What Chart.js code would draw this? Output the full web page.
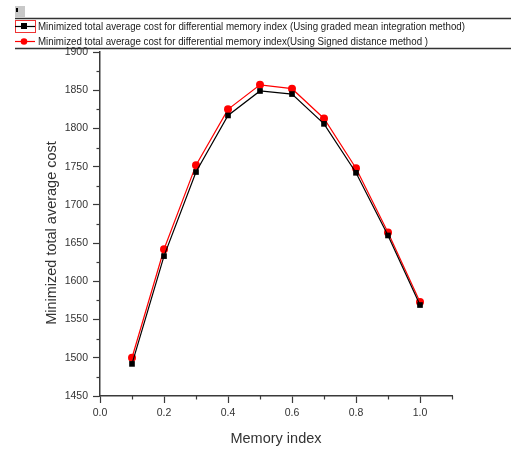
<!DOCTYPE html>
<html>
<head>
<meta charset="utf-8">
<script src="https://cdn.jsdelivr.net/npm/chart.js@4"></script>
<style>
html,body{margin:0;padding:0;background:#fff;}
#wrap{width:511px;height:450px;position:relative;}
</style>
</head>
<body>
<div id="wrap"><canvas id="c" width="511" height="450"></canvas></div>
<script>
const memoryIndex = [0.1, 0.2, 0.3, 0.4, 0.5, 0.6, 0.7, 0.8, 0.9, 1.0];
const gradedMean = [1492, 1633, 1743, 1817, 1849, 1845, 1806, 1742, 1660, 1569];
const signedDistance = [1500, 1642, 1752, 1825, 1857, 1852, 1813, 1748, 1664, 1573];
const xTickValues = [0, 0.2, 0.4, 0.6, 0.8, 1.0];
const yTickValues = [1450, 1500, 1550, 1600, 1650, 1700, 1750, 1800, 1850, 1900];
const labelGraded = 'Minimized total average cost for differential memory index (Using graded mean integration method)';
const labelSigned = 'Minimized total average cost for differential memory index(Using Signed distance method )';
const xTitle = 'Memory index';
const yTitle = 'Minimized total average cost';

const AXIS = '#3a3a3a';
const TXT = '#333333';

const toPts = (ys) => memoryIndex.map((x, i) => ({x: x, y: ys[i]}));

const decor = {
  id: 'decor',
  afterDraw(chart) {
    const ctx = chart.ctx;
    const xs = chart.scales.x, ys = chart.scales.y;
    ctx.save();
    // minor ticks
    ctx.strokeStyle = AXIS; ctx.lineWidth = 1.2;
    for (let v = 0.1; v < 1.1; v += 0.2) {
      const px = Math.round(xs.getPixelForValue(v)) + 0.5;
      ctx.beginPath(); ctx.moveTo(px, ys.bottom); ctx.lineTo(px, ys.bottom + 3.5); ctx.stroke();
    }
    for (let v = 1475; v < 1900; v += 50) {
      const py = Math.round(ys.getPixelForValue(v)) + 0.5;
      ctx.beginPath(); ctx.moveTo(xs.left, py); ctx.lineTo(xs.left - 3.5, py); ctx.stroke();
    }
    // axis titles
    ctx.fillStyle = TXT;
    ctx.font = '14.5px "Liberation Sans", Arial, sans-serif';
    ctx.textAlign = 'center'; ctx.textBaseline = 'middle';
    ctx.fillText(xTitle, (xs.left + xs.right) / 2, 439);
    ctx.translate(52, 233); ctx.rotate(-Math.PI / 2);
    ctx.fillText(yTitle, 0, 0);
    ctx.restore();

    // legend
    ctx.save();
    ctx.fillStyle = '#c8c8c8'; ctx.fillRect(15, 6, 10, 11);
    ctx.fillStyle = '#000'; ctx.fillRect(16, 8, 2, 4);
    ctx.strokeStyle = '#333'; ctx.lineWidth = 1.3;
    ctx.beginPath(); ctx.moveTo(15, 18.5); ctx.lineTo(511, 18.5); ctx.stroke();
    ctx.beginPath(); ctx.moveTo(15, 48.5); ctx.lineTo(511, 48.5); ctx.stroke();
    // row 1
    ctx.strokeStyle = '#e33'; ctx.lineWidth = 1;
    ctx.strokeRect(15.5, 20.5, 20, 12);
    ctx.strokeStyle = '#000'; ctx.lineWidth = 1.2;
    ctx.beginPath(); ctx.moveTo(15, 26.5); ctx.lineTo(35, 26.5); ctx.stroke();
    ctx.fillStyle = '#000'; ctx.fillRect(21, 23, 6, 6);
    // row 2
    ctx.strokeStyle = '#ff0000';
    ctx.beginPath(); ctx.moveTo(15, 41.5); ctx.lineTo(35, 41.5); ctx.stroke();
    ctx.fillStyle = '#ff0000'; ctx.beginPath(); ctx.arc(24, 41.5, 3.3, 0, Math.PI * 2); ctx.fill();
    ctx.fillStyle = '#222';
    ctx.font = '10px "Liberation Sans", Arial, sans-serif';
    ctx.textAlign = 'left'; ctx.textBaseline = 'middle';
    ctx.fillText(chart.data.datasets[0].label, 38, 27, 427);
    ctx.fillText(chart.data.datasets[1].label, 38, 42, 390);
    ctx.restore();
  }
};

new Chart(document.getElementById('c'), {
  type: 'line',
  data: {
    datasets: [
      {
        label: labelGraded,
        data: toPts(gradedMean),
        borderColor: '#000000',
        backgroundColor: '#000000',
        borderWidth: 1.2,
        pointStyle: 'rect',
        pointRadius: 4,
        pointHoverRadius: 4,
        pointBorderWidth: 0,
        tension: 0
      },
      {
        label: labelSigned,
        data: toPts(signedDistance),
        borderColor: '#ff0000',
        backgroundColor: '#ff0000',
        borderWidth: 1.2,
        pointStyle: 'circle',
        pointRadius: 4,
        pointHoverRadius: 4,
        pointBorderWidth: 0,
        tension: 0
      }
    ]
  },
  options: {
    responsive: false,
    animation: false,
    events: [],
    layout: {padding: {left: 0, top: 52, right: 59, bottom: 0}},
    plugins: {legend: {display: false}, tooltip: {enabled: false}},
    scales: {
      x: {
        type: 'linear',
        min: 0, max: 1.1,
        afterFit: (s) => { s.height = 54; },
        afterBuildTicks: (s) => { s.ticks = xTickValues.map(v => ({value: v})); },
        ticks: {
          color: TXT,
          font: {family: '"Liberation Sans", Arial, sans-serif', size: 10.5},
          padding: 4,
          maxRotation: 0,
          autoSkip: false,
          callback: (v) => Number(v).toFixed(1)
        },
        grid: {display: true, drawOnChartArea: false, drawTicks: true, tickLength: 7, tickColor: AXIS, tickWidth: 1.2},
        border: {display: true, color: AXIS, width: 1.5}
      },
      y: {
        type: 'linear',
        min: 1450, max: 1900,
        afterFit: (s) => { s.width = 100; },
        afterBuildTicks: (s) => { s.ticks = yTickValues.map(v => ({value: v})); },
        ticks: {
          color: TXT,
          font: {family: '"Liberation Sans", Arial, sans-serif', size: 10.5},
          padding: 5,
          autoSkip: false,
          callback: (v) => String(v)
        },
        grid: {display: true, drawOnChartArea: false, drawTicks: true, tickLength: 7, tickColor: AXIS, tickWidth: 1.2},
        border: {display: true, color: AXIS, width: 1.5}
      }
    }
  },
  plugins: [decor]
});
</script>
</body>
</html>
